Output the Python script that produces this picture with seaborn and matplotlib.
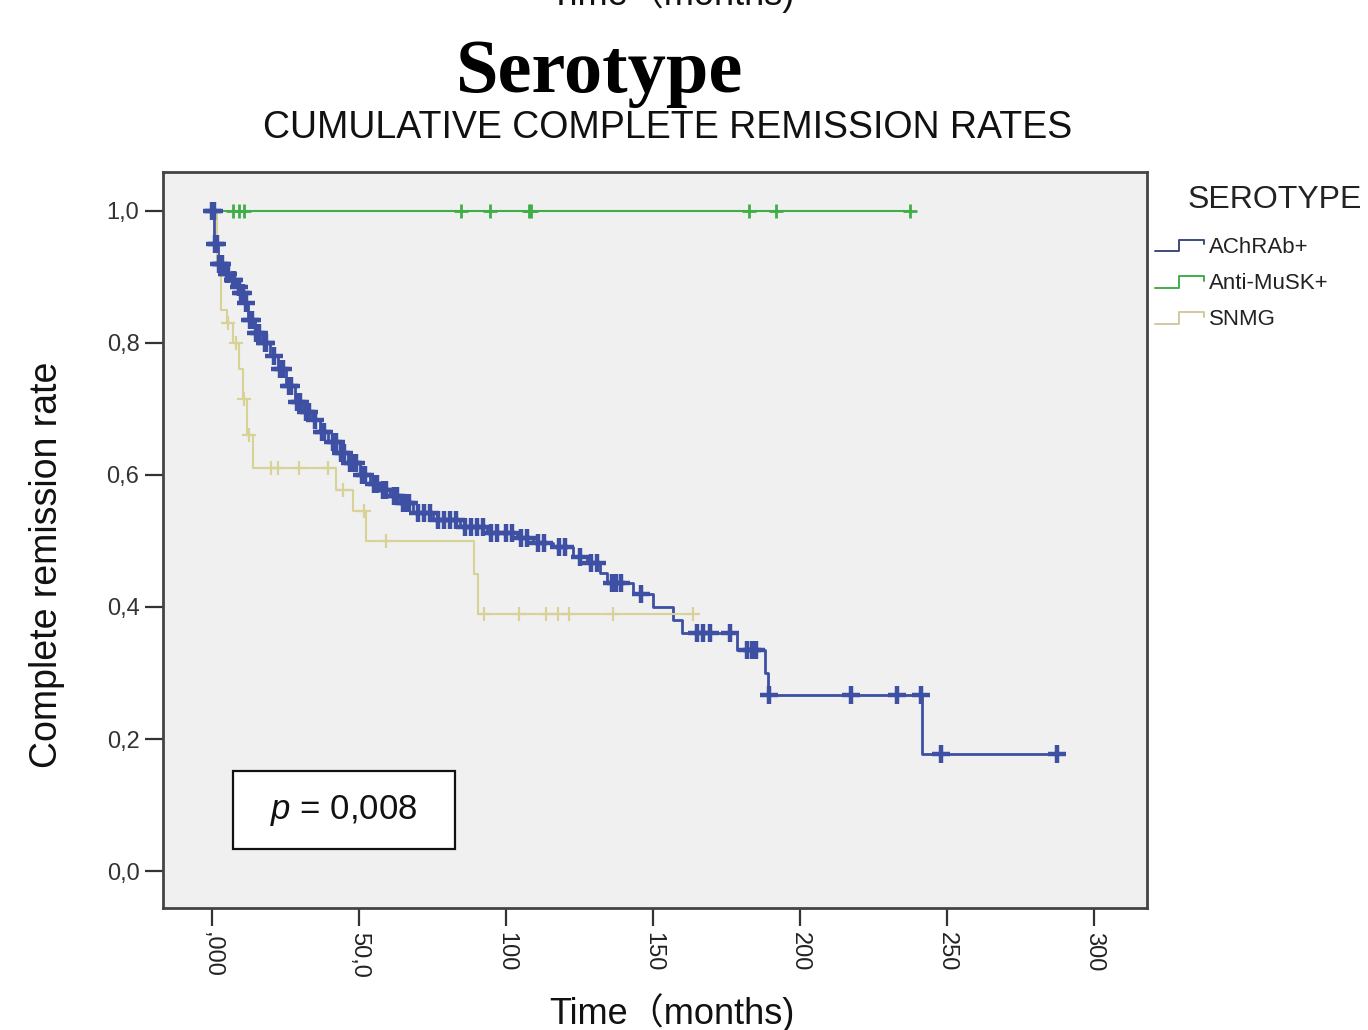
import numpy as np
import pandas as pd
import seaborn as sns
import matplotlib
matplotlib.use("Agg")
from matplotlib import pyplot as plt
from matplotlib.lines import Line2D
from matplotlib.patches import Rectangle
from matplotlib.legend_handler import HandlerBase

# Kaplan-Meier steps (time in months, remission rate)
achr_t = [0, 0.7, 2.0, 4.1, 6.1, 8.2, 9.5, 11.2, 12.2, 14.6, 17.0, 19.7, 22.4, 25.2, 28.2,
          31.0, 34.0, 36.7, 39.5, 43.5, 46.3, 50.3, 53.7, 57.1, 60.5, 63.9, 68.4, 75.2,
          84.4, 93.5, 103.7, 109.2, 116.0, 122.8, 127.6, 132.0, 134.4, 143.2, 150.0,
          156.8, 159.9, 178.6, 188.1, 189.1, 241.5, 287.4]
achr_s = [1.0, 0.95, 0.92, 0.905, 0.895, 0.885, 0.875, 0.86, 0.835, 0.815, 0.80, 0.78, 0.76,
          0.735, 0.71, 0.695, 0.683, 0.665, 0.65, 0.633, 0.618, 0.60, 0.587, 0.577, 0.568,
          0.558, 0.542, 0.532, 0.521, 0.512, 0.505, 0.497, 0.491, 0.476, 0.467, 0.452,
          0.436, 0.42, 0.40, 0.38, 0.36, 0.335, 0.30, 0.267, 0.177, 0.177]
achr_cens = [0, 0.5, 1, 1.5, 2.5, 3, 3.5, 5, 5.5, 7, 7.5, 9, 10, 10.5, 11.5, 13, 13.5, 15, 16,
             18, 18.5, 21, 23, 24, 26, 27, 29, 30, 32, 33, 35, 37.5, 38, 41, 42, 44, 45, 47,
             48, 49, 51, 52, 55, 56, 58, 59, 62, 63, 65, 66, 67, 70, 72, 74, 77, 79, 81, 83,
             86, 88, 90, 92, 95, 97, 100, 102, 105, 107, 111, 113, 118, 120, 125, 129, 131,
             136, 137.5, 139, 146, 165, 167, 169.5, 176, 182, 183.5, 185, 189.5, 217.3,
             233, 241, 248, 287.4]

musk_t = [0, 237.4]
musk_s = [1.0, 1.0]
musk_cens = [7, 9, 11, 84.7, 94.6, 107.8, 108.5, 182.7, 191.8, 237.4]

snmg_t = [0, 1.5, 3.0, 5.0, 7.0, 9.0, 10.5, 12.0, 14.0, 42.0, 48.0, 52.5, 89.0, 90.5, 163.5]
snmg_s = [1.0, 0.92, 0.85, 0.83, 0.80, 0.76, 0.715, 0.66, 0.61, 0.578, 0.545, 0.50, 0.45,
          0.39, 0.39]
snmg_cens = [5.5, 8.0, 11.0, 12.5, 20, 22.5, 29.5, 39.5, 44.5, 51.5, 59, 92.5, 104.5, 113.5,
             117.5, 121.5, 136.5, 163.5]

groups = ["AChRAb+", "Anti-MuSK+", "SNMG"]
colors = {"AChRAb+": "#3d50a3", "Anti-MuSK+": "#41ad4a", "SNMG": "#d8d296"}
x_ticks = [0, 50, 100, 150, 200, 250, 300]
x_ticklabels = [",000", "50,0", "100", "150", "200", "250", "300"]
y_ticks = [0.0, 0.2, 0.4, 0.6, 0.8, 1.0]
y_ticklabels = ["0,0", "0,2", "0,4", "0,6", "0,8", "1,0"]

curves = {"AChRAb+": (achr_t, achr_s, achr_cens),
          "Anti-MuSK+": (musk_t, musk_s, musk_cens),
          "SNMG": (snmg_t, snmg_s, snmg_cens)}

step_rows, cens_rows = [], []
for g in groups:
    t, s, c = curves[g]
    for ti, si in zip(t, s):
        step_rows.append((g, ti, si))
    t_arr = np.array(t)
    for ci in c:
        idx = np.searchsorted(t_arr, ci, side="right") - 1
        cens_rows.append((g, ci, s[idx]))
steps = pd.DataFrame(step_rows, columns=["Serotype", "Time", "Rate"])
cens = pd.DataFrame(cens_rows, columns=["Serotype", "Time", "Rate"])

sns.set_style("white")
plt.rcParams["font.family"] = ["Liberation Sans", "Noto Sans CJK SC", "DejaVu Sans"]
plt.rcParams["mathtext.fontset"] = "custom"
plt.rcParams["mathtext.it"] = "Liberation Sans:italic"
plt.rcParams["mathtext.rm"] = "Liberation Sans"

fig = plt.figure(figsize=(13.68, 10.30), dpi=100)
ax = fig.add_axes([163 / 1368, 1 - 908 / 1030, 984 / 1368, 736 / 1030])
ax.set_facecolor("#f0f0f0")

widths = {"AChRAb+": 2.0, "Anti-MuSK+": 1.5, "SNMG": 1.5}
msize = {"AChRAb+": 170, "Anti-MuSK+": 110, "SNMG": 90}
mwidth = {"AChRAb+": 3.2, "Anti-MuSK+": 2.0, "SNMG": 1.6}
for g in groups:
    sub = steps[steps["Serotype"] == g]
    sns.lineplot(data=sub, x="Time", y="Rate", color=colors[g], lw=widths[g],
                 drawstyle="steps-post", estimator=None, ax=ax, legend=False)
    csub = cens[cens["Serotype"] == g]
    sns.scatterplot(data=csub, x="Time", y="Rate", color=colors[g], marker="+",
                    s=msize[g], linewidth=mwidth[g], ax=ax, legend=False, zorder=3)

ax.set_xlim(-16.7, 318)
ax.set_ylim(-0.056, 1.059)
ax.set_xticks(x_ticks)
ax.set_xticklabels(x_ticklabels, rotation=-90, fontsize=17, color="#222222")
ax.set_yticks(y_ticks)
ax.set_yticklabels(y_ticklabels, fontsize=17, color="#333333")
ax.tick_params(axis="both", direction="out", length=13, width=1.6, color="#333333",
               left=True, bottom=True, pad=4)
for sp in ax.spines.values():
    sp.set_color("#444444")
    sp.set_linewidth(2.0)

ax.set_xlabel("Time（months)", fontsize=26, color="#111111")
ax.xaxis.set_label_coords(0.517, -0.116)
ax.set_ylabel("Complete remission rate", fontsize=27, color="#111111", va="center")
ax.yaxis.set_label_coords(-0.118, 0.466)

# p-value box
ax.add_patch(Rectangle((0.0711, 0.0802), 0.2256, 0.1058, transform=ax.transAxes,
                       facecolor="white", edgecolor="#111111", lw=1.6, zorder=4))
ax.text(0.184, 0.133, "$p$ = 0,008", transform=ax.transAxes, ha="center", va="center",
        fontsize=25, color="#111111", zorder=5)

# titles
fig.text(0.438, 1 - 92 / 1030, "Serotype", family="Liberation Serif", weight="bold",
         fontsize=55, ha="center", va="baseline", color="black")
fig.text(0.488, 1 - 138 / 1030, "CUMULATIVE COMPLETE REMISSION RATES", fontsize=27,
         ha="center", va="baseline", color="#111111")
fig.text(0.491, 1 - 5 / 1030, "Time（months)", fontsize=26, ha="center", va="baseline",
         color="#111111")


class StepHandler(HandlerBase):
    def create_artists(self, legend, orig_handle, xdescent, ydescent, width, height,
                       fontsize, trans):
        xs = np.array([0, 0.5, 0.5, 1.0, 1.0]) * width - xdescent
        ys = np.array([0.1, 0.1, 0.85, 0.85, 0.55]) * height - ydescent
        ln = Line2D(xs, ys, color=orig_handle.get_color(), lw=1.4)
        ln.set_transform(trans)
        return [ln]


handles = [Line2D([], [], color=c) for c in ["#3f4a7a", "#41ad4a", "#cfcaa0"]]
leg = ax.legend(handles, groups, handler_map={Line2D: StepHandler()},
                loc="upper left", bbox_to_anchor=(1155 / 1368, 1 - 237 / 1030),
                bbox_transform=fig.transFigure, frameon=False, fontsize=16,
                handlelength=2.2, handletextpad=0.25, labelspacing=0.68, borderpad=0,
                borderaxespad=0)
for t in leg.get_texts():
    t.set_color("#222222")
fig.text(1188 / 1368, 1 - 200 / 1030, "SEROTYPE", fontsize=23, ha="left", va="center",
         color="#222222")

fig.savefig("out.png", dpi=100)
